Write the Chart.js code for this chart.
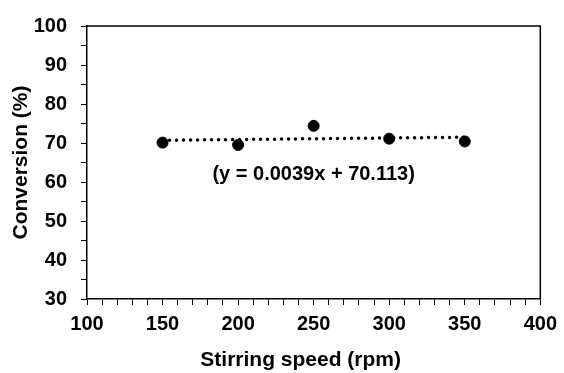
<!DOCTYPE html>
<html>
<head>
<meta charset="utf-8">
<script src="https://cdn.jsdelivr.net/npm/chart.js@4.4.0/dist/chart.umd.min.js"></script>
<style>
  html, body { margin: 0; padding: 0; background: #fff; }
  #wrap { width: 564px; height: 373px; }
</style>
</head>
<body>
<div id="wrap"><canvas id="grafico"></canvas></div>
<script>
// dados
const velocidade = [150, 200, 250, 300, 350];
const conversao = [70.1, 69.5, 74.4, 71.1, 70.4];

// linha de tendencia (y = 0.0039x + 70.113)
const tendX = [150, 350];
const tendY = [70.70, 71.48];
const equacao = '(y = 0.0039x + 70.113)';
const equacaoPos = [250, 62];

const tituloX = 'Stirring speed (rpm)';
const tituloY = 'Conversion (%)';

const familia = "'Liberation Sans', Arial, sans-serif";
const fonte = { family: familia, size: 20, weight: 'bold' };
const fonteTitulo = { family: familia, size: 21, weight: 'bold' };

// caixa em volta da area do grafico, equacao e titulo do eixo x
const extras = {
    id: 'extras',
    afterDatasetsDraw(chart) {
        const c = chart.ctx, a = chart.chartArea;
        c.save();
        c.strokeStyle = '#000';
        c.lineWidth = 1.5;
        c.beginPath();
        c.moveTo(a.left, a.top);
        c.lineTo(a.right, a.top);
        c.lineTo(a.right, a.bottom);
        c.stroke();
        c.fillStyle = '#000';
        c.textAlign = 'center';
        c.textBaseline = 'middle';
        c.font = 'bold 20px ' + familia;
        c.fillText(equacao,
            chart.scales.x.getPixelForValue(equacaoPos[0]),
            chart.scales.y.getPixelForValue(equacaoPos[1]));
        c.font = 'bold 21px ' + familia;
        c.fillText(tituloX, (a.left + a.right) / 2 - 13, a.bottom + 61);
        c.restore();
    }
};

let ctx = document.getElementById('grafico').getContext('2d');
let conv = new Chart(ctx, {
    type: 'scatter',
    data: {
        datasets: [
            {
                label: 'Conversion',
                data: velocidade.map((v, i) => ({ x: v, y: conversao[i] })),
                backgroundColor: '#000',
                borderColor: '#000',
                pointRadius: 5.5,
                pointHoverRadius: 5.5,
                order: 1
            },
            {
                label: 'Trend',
                data: tendX.map((v, i) => ({ x: v, y: tendY[i] })),
                showLine: true,
                borderColor: '#000',
                borderWidth: 3.5,
                borderDash: [0, 7],
                borderCapStyle: 'round',
                pointRadius: 0,
                fill: false,
                order: 2
            }
        ]
    },
    options: {
        responsive: true,
        maintainAspectRatio: false,
        animation: false,
        layout: { padding: { top: 22, right: 19, left: 0, bottom: 0 } },
        plugins: { legend: { display: false }, tooltip: { enabled: false } },
        scales: {
            x: {
                type: 'linear',
                min: 100, max: 400,
                afterFit(s) { s.height = 74; },
                ticks: {
                    stepSize: 10,
                    autoSkip: false,
                    maxRotation: 0,
                    padding: 7,
                    color: '#000',
                    font: fonte,
                    callback: v => (v % 50 === 0 ? v : '')
                },
                grid: { drawOnChartArea: false, tickLength: 6, color: '#000', lineWidth: 1 },
                border: { display: true, color: '#000', width: 1.5 },
                title: { display: false }
            },
            y: {
                min: 30, max: 100,
                afterFit(s) { s.width = 87; },
                ticks: {
                    stepSize: 5,
                    autoSkip: false,
                    padding: 14,
                    color: '#000',
                    font: fonte,
                    callback: v => (v % 10 === 0 ? v : '')
                },
                grid: { drawOnChartArea: false, tickLength: 6, color: '#000', lineWidth: 1 },
                border: { display: true, color: '#000', width: 1.5 },
                title: {
                    display: true,
                    text: tituloY,
                    color: '#000',
                    font: fonteTitulo,
                    padding: { top: 9, bottom: 0 }
                }
            }
        }
    },
    plugins: [extras]
});
</script>
</body>
</html>
